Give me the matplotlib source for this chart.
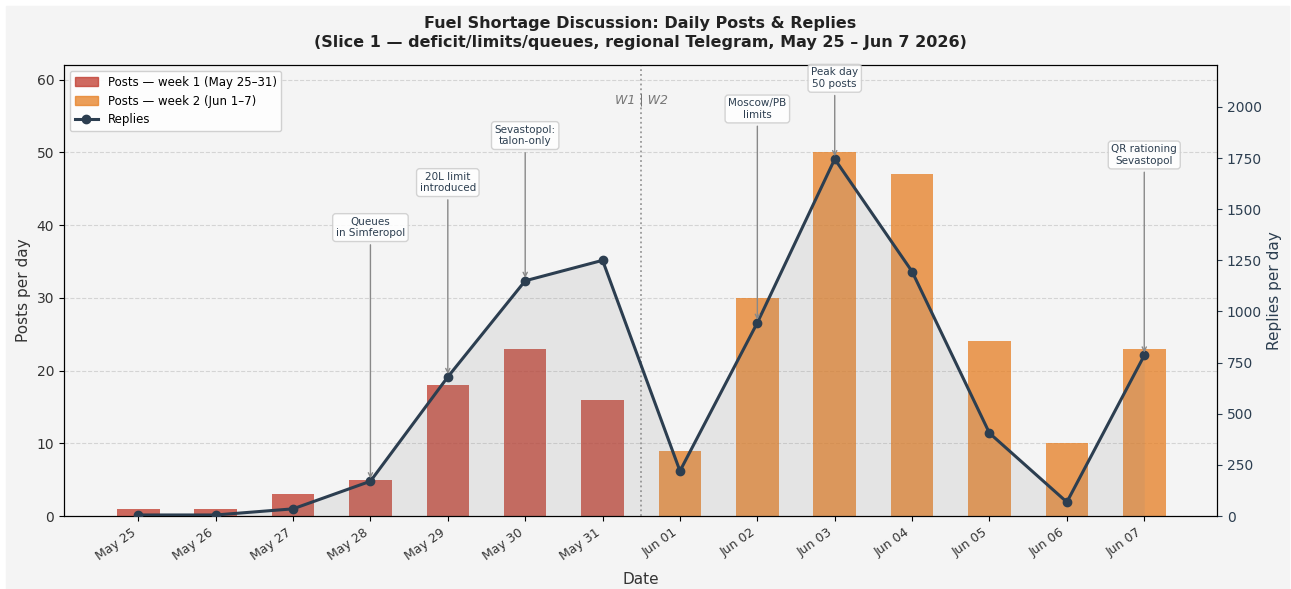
import matplotlib
matplotlib.use("Agg")
import matplotlib.pyplot as plt
import matplotlib.dates as mdates
from matplotlib.patches import Rectangle
from matplotlib.lines import Line2D
import numpy as np
import datetime as dt

# data
dates = [dt.date(2026, 5, 25) + dt.timedelta(days=i) for i in range(14)]
posts = [1, 1, 3, 5, 18, 23, 16, 9, 30, 50, 47, 24, 10, 23]
replies = [5, 5, 35, 170, 680, 1150, 1250, 220, 945, 1745, 1195, 405, 68, 785]
week_colors = ['#c0392b'] * 7 + ['#e67e22'] * 7

# annotations: (day index, text, text height in replies units)
notes = [
    (3, "Queues\nin Simferopol", 1410),
    (4, "20L limit\nintroduced", 1630),
    (5, "Sevastopol:\ntalon-only", 1860),
    (8, "Moscow/PB\nlimits", 1990),
    (9, "Peak day\n50 posts", 2140),
    (13, "QR rationing\nSevastopol", 1765),
]

bg = '#f4f4f4'
slate = '#2c3e50'

fig = plt.figure(figsize=(12.91, 5.89), dpi=100)
fig.patch.set_facecolor('white')
fig.patches.append(Rectangle((6 / 1291, 0), 1 - 8 / 1291, 1 - 6 / 589,
                             transform=fig.transFigure, color=bg, zorder=-10))
ax1 = fig.add_axes([64 / 1291, 73 / 589, 1153 / 1291, 451 / 589])
ax1.set_facecolor(bg)

x = mdates.date2num(dates)
ax1.bar(x, posts, width=0.55, color=week_colors, alpha=0.75, zorder=2)
ax1.set_ylim(0, 62)
ax1.set_xlim(x[0] - 0.96, x[-1] + 0.94)
ax1.set_ylabel("Posts per day", fontsize=11, color='#333333')
ax1.set_xlabel("Date", fontsize=11, color='#333333', labelpad=7)
ax1.grid(axis='y', linestyle='--', color='#cccccc', alpha=0.8, zorder=0)
ax1.set_axisbelow(True)
ax1.xaxis.set_major_locator(mdates.DayLocator())
ax1.xaxis.set_major_formatter(mdates.DateFormatter('%b %d'))
plt.setp(ax1.get_xticklabels(), rotation=35, ha='right', fontsize=9)
ax1.tick_params(axis='y', labelsize=10, labelcolor='#333333')
ax1.tick_params(axis='x', labelcolor='#333333')

# week divider
ax1.axvline(x[6] + 0.5, color='#999999', linestyle=':', lw=1.3, zorder=3)
ax1.text(x[6] + 0.5, 57.2, "W1 | W2", ha='center', va='center', fontsize=9,
         style='italic', color='#777777')

ax2 = ax1.twinx()
ax2.fill_between(x, replies, 0, color='grey', alpha=0.13, lw=0, zorder=1)
ax2.plot(x, replies, color=slate, lw=2.2, marker='o', markersize=6, zorder=4)
ax2.set_ylim(0, 2205)
ax2.set_ylabel("Replies per day", fontsize=11, color=slate)
ax2.tick_params(axis='y', colors=slate, labelsize=10)

for i, txt, ty in notes:
    ax2.annotate(txt, xy=(x[i], replies[i]), xytext=(x[i], ty),
                 ha='center', va='center', fontsize=7.5, color=slate,
                 bbox=dict(boxstyle='round,pad=0.3', fc='white', ec='#cccccc', alpha=0.85),
                 arrowprops=dict(arrowstyle='->', color='#888888', lw=1.0),
                 zorder=6)

handles = [
    Rectangle((0, 0), 1, 1, color='#c0392b', alpha=0.75),
    Rectangle((0, 0), 1, 1, color='#e67e22', alpha=0.75),
    Line2D([0], [0], color=slate, lw=2.2, marker='o', markersize=6),
]
labels = ["Posts — week 1 (May 25–31)", "Posts — week 2 (Jun 1–7)", "Replies"]
leg = ax2.legend(handles, labels, loc='upper left', fontsize=8.5, framealpha=0.9,
                 edgecolor='#cccccc')
leg.set_zorder(10)

ax1.set_title("Fuel Shortage Discussion: Daily Posts & Replies\n"
              "(Slice 1 — deficit/limits/queues, regional Telegram, May 25 – Jun 7 2026)",
              fontsize=11.5, fontweight='bold', color='#222222', pad=13,
              linespacing=1.3)

fig.savefig("out.png", dpi=100, facecolor=fig.get_facecolor())
